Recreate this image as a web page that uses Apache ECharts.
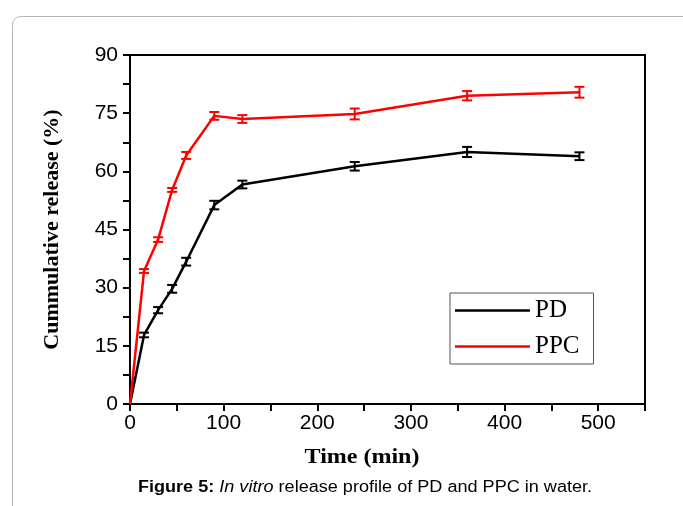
<!DOCTYPE html>
<html>
<head>
<meta charset="utf-8">
<script src="https://cdn.jsdelivr.net/npm/echarts@6/dist/echarts.min.js"></script>
<style>
  html, body { margin: 0; padding: 0; background: #fff; }
  #main { width: 683px; height: 506px; }
</style>
</head>
<body>
<div id="main"></div>
<script>
var myChart = echarts.init(document.getElementById('main'));

// time points (min)
var times = [0, 15, 30, 45, 60, 90, 120, 240, 360, 480];
// cumulative release (%)
var pdValues = [0, 17.8, 24.2, 29.7, 36.7, 51.3, 56.6, 61.3, 65.0, 63.9];
var ppcValues = [0, 34.3, 42.4, 55.2, 64.1, 74.3, 73.5, 74.8, 79.5, 80.4];
// error bar half widths
var pdErr = [0, 0.6, 0.8, 1.0, 1.0, 1.1, 1.0, 1.1, 1.3, 1.0];
var ppcErr = [0, 0.5, 0.6, 0.5, 0.9, 1.0, 1.0, 1.4, 1.2, 1.4];
var yTicks = [0, 15, 30, 45, 60, 75, 90];
var xTicks = [0, 100, 200, 300, 400, 500];

function pairs(vals) {
    return times.map(function (t, i) { return [t, vals[i]]; });
}
function errData(vals, err) {
    var out = [];
    for (var i = 1; i < times.length; i++) {
        out.push([times[i], vals[i] - err[i], vals[i] + err[i]]);
    }
    return out;
}
function errRender(color) {
    return function (params, api) {
        var lo = api.coord([api.value(0), api.value(1)]);
        var hi = api.coord([api.value(0), api.value(2)]);
        var w = 5;
        var st = { stroke: color, lineWidth: 2 };
        return {
            type: 'group',
            children: [
                { type: 'line', shape: { x1: lo[0], y1: lo[1], x2: hi[0], y2: hi[1] }, style: st },
                { type: 'line', shape: { x1: lo[0] - w, y1: lo[1], x2: lo[0] + w, y2: lo[1] }, style: st },
                { type: 'line', shape: { x1: hi[0] - w, y1: hi[1], x2: hi[0] + w, y2: hi[1] }, style: st }
            ]
        };
    };
}

var option = {
    backgroundColor: '#fff',
    animation: false,
    grid: {
        left: 130, right: 38, top: 55, bottom: 102,
        show: true, borderColor: '#000', borderWidth: 2
    },
    legend: {
        data: ['PD', 'PPC'],
        orient: 'vertical',
        left: 450, top: 293,
        icon: 'rect',
        itemWidth: 75, itemHeight: 2.5,
        itemGap: 11,
        padding: [5, 14, 5, 5],
        borderColor: '#555', borderWidth: 1,
        backgroundColor: '#fff',
        textStyle: { fontFamily: 'Liberation Serif', fontSize: 25, color: '#000' }
    },
    xAxis: {
        type: 'value',
        min: 0, max: 550, interval: 50,
        axisLine: { lineStyle: { color: '#000', width: 2 } },
        axisTick: { show: true, length: 7, lineStyle: { color: '#000', width: 2 } },
        axisLabel: {
            margin: 9, fontFamily: 'Liberation Sans', fontSize: 21, color: '#000',
            formatter: function (v) { return xTicks.indexOf(v) >= 0 ? String(v) : ''; }
        },
        splitLine: { show: false }
    },
    yAxis: {
        type: 'value',
        min: 0, max: 90, interval: 7.5,
        name: 'Cummulative release (%)',
        nameLocation: 'middle',
        nameGap: 67,
        nameTextStyle: { fontFamily: 'Liberation Serif', fontWeight: 'bold', fontSize: 22, color: '#000' },
        axisLine: { lineStyle: { color: '#000', width: 2 } },
        axisTick: { show: true, length: 7, lineStyle: { color: '#000', width: 2 } },
        axisLabel: {
            margin: 12, fontFamily: 'Liberation Sans', fontSize: 21, color: '#000',
            formatter: function (v) { return yTicks.indexOf(v) >= 0 ? String(v) : ''; }
        },
        splitLine: { show: false }
    },
    series: [
        {
            name: 'PD', type: 'line', data: pairs(pdValues),
            showSymbol: false, color: '#000',
            lineStyle: { color: '#000', width: 2.5 }
        },
        {
            name: 'PPC', type: 'line', data: pairs(ppcValues),
            showSymbol: false, color: '#ff0000',
            lineStyle: { color: '#ff0000', width: 2.5 }
        },
        {
            name: 'PD err', type: 'custom', data: errData(pdValues, pdErr),
            renderItem: errRender('#000'), z: 3
        },
        {
            name: 'PPC err', type: 'custom', data: errData(ppcValues, ppcErr),
            renderItem: errRender('#ff0000'), z: 3
        }
    ],
    graphic: [
        {
            type: 'rect', z: -1, silent: true,
            shape: { x: 12.5, y: 16.5, width: 720, height: 540, r: 8 },
            style: { fill: 'none', stroke: '#b5b5b5', lineWidth: 1 }
        },
        {
            type: 'text', x: 362, y: 458, scaleX: 1.2,
            style: {
                text: 'Time (min)', textAlign: 'center', textVerticalAlign: 'middle',
                font: 'bold 20px "Liberation Serif"', fill: '#000'
            }
        },
        {
            type: 'text', x: 365, y: 488, scaleX: 1.13,
            style: {
                text: '{b|Figure 5:} {i|In vitro} release profile of PD and PPC in water.',
                textAlign: 'center', textVerticalAlign: 'middle',
                font: '16px "Liberation Sans"', fill: '#000',
                rich: {
                    b: { fontWeight: 'bold', fontSize: 16, fontFamily: 'Liberation Sans' },
                    i: { fontStyle: 'italic', fontSize: 16, fontFamily: 'Liberation Sans' }
                }
            }
        }
    ]
};

myChart.setOption(option);
</script>
</body>
</html>
